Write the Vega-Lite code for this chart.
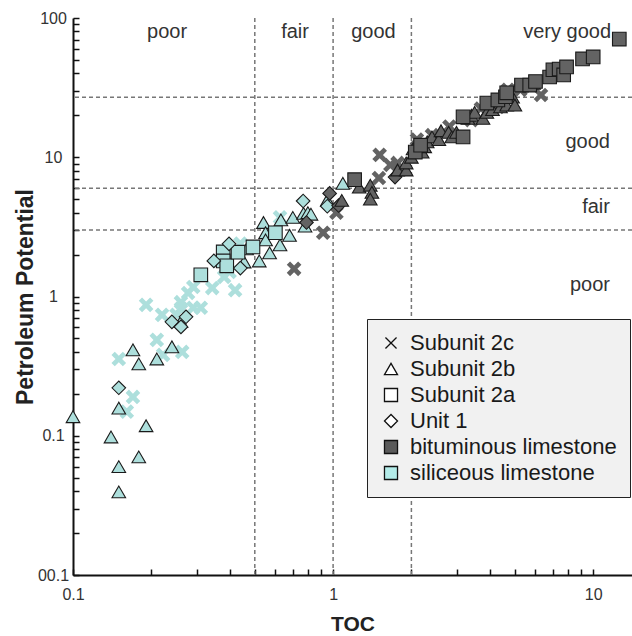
{
  "$schema": "https://vega.github.io/schema/vega-lite/v6.json",
  "width": 559,
  "height": 557,
  "autosize": {"type": "none"},
  "padding": {"left": 73, "top": 18, "right": 0, "bottom": 61},
  "background": "white",
  "resolve": {"axis": {"x": "independent", "y": "independent"}},
  "config": {
    "font": "Liberation Sans",
    "view": {"stroke": null},
    "axis": {
      "grid": false,
      "domainColor": "#111",
      "domainWidth": 2,
      "tickColor": "#111",
      "tickWidth": 1.5,
      "tickSize": 6,
      "labelFontSize": 16,
      "labelColor": "#333",
      "labelFlush": false,
      "labelOverlap": false,
      "titleFontSize": 21,
      "titleFontWeight": "bold",
      "titleColor": "#222",
      "zindex": 1
    },
    "legend": {
      "orient": "none",
      "legendX": 294,
      "legendY": 301,
      "fillColor": "#f1f1f1",
      "strokeColor": "#222",
      "padding": 13,
      "labelFontSize": 22,
      "labelColor": "#1a1a1a",
      "labelLimit": 400,
      "labelOffset": 8,
      "rowPadding": 4,
      "symbolSize": 170,
      "symbolStrokeWidth": 1.3,
      "symbolStrokeColor": "#111",
      "symbolOpacity": 1
    }
  },
  "datasets": {
    "pts": [
      {"toc": 0.15, "pp": 0.356, "unit": "Subunit 2c", "lith": "siliceous limestone"},
      {"toc": 0.17, "pp": 0.19, "unit": "Subunit 2c", "lith": "siliceous limestone"},
      {"toc": 0.161, "pp": 0.149, "unit": "Subunit 2c", "lith": "siliceous limestone"},
      {"toc": 0.21, "pp": 0.488, "unit": "Subunit 2c", "lith": "siliceous limestone"},
      {"toc": 0.222, "pp": 0.381, "unit": "Subunit 2c", "lith": "siliceous limestone"},
      {"toc": 0.263, "pp": 0.4, "unit": "Subunit 2c", "lith": "siliceous limestone"},
      {"toc": 0.191, "pp": 0.871, "unit": "Subunit 2c", "lith": "siliceous limestone"},
      {"toc": 0.22, "pp": 0.738, "unit": "Subunit 2c", "lith": "siliceous limestone"},
      {"toc": 0.26, "pp": 0.91, "unit": "Subunit 2c", "lith": "siliceous limestone"},
      {"toc": 0.26, "pp": 0.82, "unit": "Subunit 2c", "lith": "siliceous limestone"},
      {"toc": 0.25, "pp": 0.74, "unit": "Subunit 2c", "lith": "siliceous limestone"},
      {"toc": 0.277, "pp": 1.06, "unit": "Subunit 2c", "lith": "siliceous limestone"},
      {"toc": 0.29, "pp": 1.17, "unit": "Subunit 2c", "lith": "siliceous limestone"},
      {"toc": 0.29, "pp": 0.83, "unit": "Subunit 2c", "lith": "siliceous limestone"},
      {"toc": 0.31, "pp": 0.83, "unit": "Subunit 2c", "lith": "siliceous limestone"},
      {"toc": 0.343, "pp": 1.15, "unit": "Subunit 2c", "lith": "siliceous limestone"},
      {"toc": 0.381, "pp": 1.38, "unit": "Subunit 2c", "lith": "siliceous limestone"},
      {"toc": 0.42, "pp": 1.11, "unit": "Subunit 2c", "lith": "siliceous limestone"},
      {"toc": 0.4, "pp": 1.5, "unit": "Subunit 2c", "lith": "siliceous limestone"},
      {"toc": 0.44, "pp": 2.4, "unit": "Subunit 2c", "lith": "siliceous limestone"},
      {"toc": 0.625, "pp": 3.7, "unit": "Subunit 2c", "lith": "siliceous limestone"},
      {"toc": 0.708, "pp": 1.58, "unit": "Subunit 2c", "lith": "bituminous limestone"},
      {"toc": 0.916, "pp": 2.87, "unit": "Subunit 2c", "lith": "bituminous limestone"},
      {"toc": 1.03, "pp": 4.0, "unit": "Subunit 2c", "lith": "bituminous limestone"},
      {"toc": 1.51, "pp": 10.4, "unit": "Subunit 2c", "lith": "bituminous limestone"},
      {"toc": 1.5, "pp": 7.1, "unit": "Subunit 2c", "lith": "bituminous limestone"},
      {"toc": 1.66, "pp": 8.8, "unit": "Subunit 2c", "lith": "bituminous limestone"},
      {"toc": 1.77, "pp": 9.1, "unit": "Subunit 2c", "lith": "bituminous limestone"},
      {"toc": 2.1, "pp": 13.4, "unit": "Subunit 2c", "lith": "bituminous limestone"},
      {"toc": 2.4, "pp": 14.4, "unit": "Subunit 2c", "lith": "bituminous limestone"},
      {"toc": 2.8, "pp": 16.6, "unit": "Subunit 2c", "lith": "bituminous limestone"},
      {"toc": 3.4, "pp": 18.5, "unit": "Subunit 2c", "lith": "bituminous limestone"},
      {"toc": 3.7, "pp": 22.4, "unit": "Subunit 2c", "lith": "bituminous limestone"},
      {"toc": 4.3, "pp": 23.0, "unit": "Subunit 2c", "lith": "bituminous limestone"},
      {"toc": 4.7, "pp": 30.5, "unit": "Subunit 2c", "lith": "bituminous limestone"},
      {"toc": 5.25, "pp": 30.5, "unit": "Subunit 2c", "lith": "bituminous limestone"},
      {"toc": 6.3, "pp": 28.0, "unit": "Subunit 2c", "lith": "bituminous limestone"},
      {"toc": 0.1, "pp": 0.137, "unit": "Subunit 2b", "lith": "siliceous limestone"},
      {"toc": 0.15, "pp": 0.158, "unit": "Subunit 2b", "lith": "siliceous limestone"},
      {"toc": 0.191, "pp": 0.118, "unit": "Subunit 2b", "lith": "siliceous limestone"},
      {"toc": 0.14, "pp": 0.098, "unit": "Subunit 2b", "lith": "siliceous limestone"},
      {"toc": 0.179, "pp": 0.0705, "unit": "Subunit 2b", "lith": "siliceous limestone"},
      {"toc": 0.15, "pp": 0.06, "unit": "Subunit 2b", "lith": "siliceous limestone"},
      {"toc": 0.15, "pp": 0.0395, "unit": "Subunit 2b", "lith": "siliceous limestone"},
      {"toc": 0.17, "pp": 0.414, "unit": "Subunit 2b", "lith": "siliceous limestone"},
      {"toc": 0.179, "pp": 0.328, "unit": "Subunit 2b", "lith": "siliceous limestone"},
      {"toc": 0.21, "pp": 0.356, "unit": "Subunit 2b", "lith": "siliceous limestone"},
      {"toc": 0.24, "pp": 0.435, "unit": "Subunit 2b", "lith": "siliceous limestone"},
      {"toc": 0.26, "pp": 0.66, "unit": "Subunit 2b", "lith": "siliceous limestone"},
      {"toc": 0.455, "pp": 1.77, "unit": "Subunit 2b", "lith": "siliceous limestone"},
      {"toc": 0.465, "pp": 2.2, "unit": "Subunit 2b", "lith": "siliceous limestone"},
      {"toc": 0.52, "pp": 1.8, "unit": "Subunit 2b", "lith": "siliceous limestone"},
      {"toc": 0.54, "pp": 3.4, "unit": "Subunit 2b", "lith": "siliceous limestone"},
      {"toc": 0.55, "pp": 2.87, "unit": "Subunit 2b", "lith": "siliceous limestone"},
      {"toc": 0.55, "pp": 2.55, "unit": "Subunit 2b", "lith": "siliceous limestone"},
      {"toc": 0.57, "pp": 2.06, "unit": "Subunit 2b", "lith": "siliceous limestone"},
      {"toc": 0.625, "pp": 2.35, "unit": "Subunit 2b", "lith": "siliceous limestone"},
      {"toc": 0.63, "pp": 3.55, "unit": "Subunit 2b", "lith": "siliceous limestone"},
      {"toc": 0.68, "pp": 2.75, "unit": "Subunit 2b", "lith": "siliceous limestone"},
      {"toc": 0.7, "pp": 3.7, "unit": "Subunit 2b", "lith": "siliceous limestone"},
      {"toc": 0.77, "pp": 3.95, "unit": "Subunit 2b", "lith": "siliceous limestone"},
      {"toc": 0.8, "pp": 4.0, "unit": "Subunit 2b", "lith": "siliceous limestone"},
      {"toc": 0.78, "pp": 3.2, "unit": "Subunit 2b", "lith": "siliceous limestone"},
      {"toc": 0.822, "pp": 3.9, "unit": "Subunit 2b", "lith": "siliceous limestone"},
      {"toc": 0.95, "pp": 4.93, "unit": "Subunit 2b", "lith": "siliceous limestone"},
      {"toc": 1.09, "pp": 6.5, "unit": "Subunit 2b", "lith": "siliceous limestone"},
      {"toc": 0.31, "pp": 1.43, "unit": "Subunit 2a", "lith": "siliceous limestone"},
      {"toc": 0.378, "pp": 2.09, "unit": "Subunit 2a", "lith": "siliceous limestone"},
      {"toc": 0.378, "pp": 1.8, "unit": "Subunit 2a", "lith": "siliceous limestone"},
      {"toc": 0.39, "pp": 1.66, "unit": "Subunit 2a", "lith": "siliceous limestone"},
      {"toc": 0.431, "pp": 2.08, "unit": "Subunit 2a", "lith": "siliceous limestone"},
      {"toc": 0.492, "pp": 2.27, "unit": "Subunit 2a", "lith": "siliceous limestone"},
      {"toc": 0.6, "pp": 2.87, "unit": "Subunit 2a", "lith": "siliceous limestone"},
      {"toc": 0.15, "pp": 0.221, "unit": "Unit 1", "lith": "siliceous limestone"},
      {"toc": 0.24, "pp": 0.658, "unit": "Unit 1", "lith": "siliceous limestone"},
      {"toc": 0.26, "pp": 0.605, "unit": "Unit 1", "lith": "siliceous limestone"},
      {"toc": 0.272, "pp": 0.715, "unit": "Unit 1", "lith": "siliceous limestone"},
      {"toc": 0.348, "pp": 1.8, "unit": "Unit 1", "lith": "siliceous limestone"},
      {"toc": 0.398, "pp": 2.39, "unit": "Unit 1", "lith": "siliceous limestone"},
      {"toc": 0.44, "pp": 1.6, "unit": "Unit 1", "lith": "siliceous limestone"},
      {"toc": 0.767, "pp": 4.85, "unit": "Unit 1", "lith": "siliceous limestone"},
      {"toc": 0.95, "pp": 4.45, "unit": "Unit 1", "lith": "siliceous limestone"},
      {"toc": 0.79, "pp": 3.4, "unit": "Unit 1", "lith": "bituminous limestone"},
      {"toc": 0.97, "pp": 5.5, "unit": "Unit 1", "lith": "bituminous limestone"},
      {"toc": 1.05, "pp": 4.5, "unit": "Unit 1", "lith": "bituminous limestone"},
      {"toc": 1.73, "pp": 7.2, "unit": "Unit 1", "lith": "bituminous limestone"},
      {"toc": 1.08, "pp": 4.9, "unit": "Subunit 2b", "lith": "bituminous limestone"},
      {"toc": 1.26, "pp": 6.1, "unit": "Subunit 2b", "lith": "bituminous limestone"},
      {"toc": 1.39, "pp": 6.3, "unit": "Subunit 2b", "lith": "bituminous limestone"},
      {"toc": 1.41, "pp": 5.6, "unit": "Subunit 2b", "lith": "bituminous limestone"},
      {"toc": 1.39, "pp": 5.0, "unit": "Subunit 2b", "lith": "bituminous limestone"},
      {"toc": 1.77, "pp": 8.1, "unit": "Subunit 2b", "lith": "bituminous limestone"},
      {"toc": 1.91, "pp": 8.1, "unit": "Subunit 2b", "lith": "bituminous limestone"},
      {"toc": 1.91, "pp": 9.1, "unit": "Subunit 2b", "lith": "bituminous limestone"},
      {"toc": 2.0, "pp": 10.0, "unit": "Subunit 2b", "lith": "bituminous limestone"},
      {"toc": 2.03, "pp": 11.5, "unit": "Subunit 2b", "lith": "bituminous limestone"},
      {"toc": 2.1, "pp": 12.0, "unit": "Subunit 2b", "lith": "bituminous limestone"},
      {"toc": 2.2, "pp": 10.9, "unit": "Subunit 2b", "lith": "bituminous limestone"},
      {"toc": 2.25, "pp": 11.9, "unit": "Subunit 2b", "lith": "bituminous limestone"},
      {"toc": 2.3, "pp": 12.9, "unit": "Subunit 2b", "lith": "bituminous limestone"},
      {"toc": 2.4, "pp": 14.0, "unit": "Subunit 2b", "lith": "bituminous limestone"},
      {"toc": 2.55, "pp": 13.4, "unit": "Subunit 2b", "lith": "bituminous limestone"},
      {"toc": 2.6, "pp": 15.5, "unit": "Subunit 2b", "lith": "bituminous limestone"},
      {"toc": 2.78, "pp": 15.1, "unit": "Subunit 2b", "lith": "bituminous limestone"},
      {"toc": 2.86, "pp": 14.0, "unit": "Subunit 2b", "lith": "bituminous limestone"},
      {"toc": 2.98, "pp": 15.1, "unit": "Subunit 2b", "lith": "bituminous limestone"},
      {"toc": 3.3, "pp": 19.0, "unit": "Subunit 2b", "lith": "bituminous limestone"},
      {"toc": 3.4, "pp": 20.0, "unit": "Subunit 2b", "lith": "bituminous limestone"},
      {"toc": 3.5, "pp": 21.0, "unit": "Subunit 2b", "lith": "bituminous limestone"},
      {"toc": 3.77, "pp": 19.0, "unit": "Subunit 2b", "lith": "bituminous limestone"},
      {"toc": 3.9, "pp": 21.0, "unit": "Subunit 2b", "lith": "bituminous limestone"},
      {"toc": 4.1, "pp": 22.0, "unit": "Subunit 2b", "lith": "bituminous limestone"},
      {"toc": 4.4, "pp": 23.0, "unit": "Subunit 2b", "lith": "bituminous limestone"},
      {"toc": 4.65, "pp": 23.7, "unit": "Subunit 2b", "lith": "bituminous limestone"},
      {"toc": 4.8, "pp": 27.2, "unit": "Subunit 2b", "lith": "bituminous limestone"},
      {"toc": 4.9, "pp": 27.0, "unit": "Subunit 2b", "lith": "bituminous limestone"},
      {"toc": 5.0, "pp": 23.7, "unit": "Subunit 2b", "lith": "bituminous limestone"},
      {"toc": 5.9, "pp": 34.0, "unit": "Subunit 2b", "lith": "bituminous limestone"},
      {"toc": 1.21, "pp": 6.9, "unit": "Subunit 2a", "lith": "bituminous limestone"},
      {"toc": 2.07, "pp": 10.9, "unit": "Subunit 2a", "lith": "bituminous limestone"},
      {"toc": 2.17, "pp": 12.2, "unit": "Subunit 2a", "lith": "bituminous limestone"},
      {"toc": 3.16, "pp": 14.0, "unit": "Subunit 2a", "lith": "bituminous limestone"},
      {"toc": 3.16, "pp": 19.5, "unit": "Subunit 2a", "lith": "bituminous limestone"},
      {"toc": 3.9, "pp": 24.5, "unit": "Subunit 2a", "lith": "bituminous limestone"},
      {"toc": 4.3, "pp": 25.8, "unit": "Subunit 2a", "lith": "bituminous limestone"},
      {"toc": 4.6, "pp": 27.2, "unit": "Subunit 2a", "lith": "bituminous limestone"},
      {"toc": 4.65, "pp": 29.0, "unit": "Subunit 2a", "lith": "bituminous limestone"},
      {"toc": 5.3, "pp": 33.0, "unit": "Subunit 2a", "lith": "bituminous limestone"},
      {"toc": 5.7, "pp": 33.0, "unit": "Subunit 2a", "lith": "bituminous limestone"},
      {"toc": 6.0, "pp": 35.0, "unit": "Subunit 2a", "lith": "bituminous limestone"},
      {"toc": 6.8, "pp": 37.7, "unit": "Subunit 2a", "lith": "bituminous limestone"},
      {"toc": 7.0, "pp": 42.5, "unit": "Subunit 2a", "lith": "bituminous limestone"},
      {"toc": 7.4, "pp": 43.0, "unit": "Subunit 2a", "lith": "bituminous limestone"},
      {"toc": 7.7, "pp": 39.0, "unit": "Subunit 2a", "lith": "bituminous limestone"},
      {"toc": 7.9, "pp": 44.5, "unit": "Subunit 2a", "lith": "bituminous limestone"},
      {"toc": 9.1, "pp": 50.8, "unit": "Subunit 2a", "lith": "bituminous limestone"},
      {"toc": 10.0, "pp": 52.5, "unit": "Subunit 2a", "lith": "bituminous limestone"},
      {"toc": 12.6, "pp": 70.6, "unit": "Subunit 2a", "lith": "bituminous limestone"}
    ]
  },
  "layer": [
    {
      "data": {"values": [{"toc": 0.5}, {"toc": 1}, {"toc": 2}]},
      "mark": {"type": "rule", "color": "#777", "strokeWidth": 1.5, "strokeDash": [4, 3]},
      "encoding": {
        "x": {"field": "toc", "type": "quantitative", "scale": {"type": "log", "domain": [0.1, 14.1], "nice": false},
          "axis": {"orient": "top", "offset": -557, "domain": false, "labels": false, "title": null,
                   "values": [0.1, 0.2, 0.3, 0.4, 0.5, 0.6, 0.7, 0.8, 0.9, 1, 2, 3, 4, 5, 6, 7, 8, 9, 10]}}
      }
    },
    {
      "data": {"values": [{"pp": 3}, {"pp": 6}, {"pp": 27}]},
      "mark": {"type": "rule", "color": "#777", "strokeWidth": 1.5, "strokeDash": [4, 3]},
      "encoding": {
        "y": {"field": "pp", "type": "quantitative", "scale": {"type": "log", "domain": [0.01, 100], "nice": false},
          "axis": {"orient": "right", "offset": -559, "domain": false, "labels": false, "title": null,
                   "values": [0.01, 0.02, 0.03, 0.04, 0.05, 0.06, 0.07, 0.08, 0.09, 0.1, 0.2, 0.3, 0.4, 0.5, 0.6, 0.7, 0.8, 0.9, 1, 2, 3, 4, 5, 6, 7, 8, 9, 10, 20, 30, 40, 50, 60, 70, 80, 90, 100]}}
      }
    },
    {
      "data": {"name": "pts"},
      "transform": [{"filter": "datum.unit === 'Subunit 2c'"}],
      "mark": {"type": "point", "filled": true, "opacity": 1, "strokeWidth": 0, "size": 215,
               "shape": "M-1,-0.55L-0.55,-1L0,-0.45L0.55,-1L1,-0.55L0.45,0L1,0.55L0.55,1L0,0.45L-0.55,1L-1,0.55L-0.45,0Z"},
      "encoding": {
        "x": {"field": "toc", "type": "quantitative", "scale": {"type": "log", "domain": [0.1, 14.1], "nice": false}, "axis": null},
        "y": {"field": "pp", "type": "quantitative", "scale": {"type": "log", "domain": [0.01, 100], "nice": false}, "axis": null},
        "fill": {"field": "lith", "type": "nominal", "legend": null,
          "scale": {"domain": ["bituminous limestone", "siliceous limestone"], "range": ["#636363", "#addfdc"]}}
      }
    },
    {
      "data": {"name": "pts"},
      "transform": [{"filter": "datum.unit !== 'Subunit 2c'"}],
      "mark": {"type": "point", "filled": true, "opacity": 1, "stroke": "#1a1a1a", "strokeWidth": 1.1, "size": 185},
      "encoding": {
        "x": {"field": "toc", "type": "quantitative", "title": "TOC",
          "scale": {"type": "log", "domain": [0.1, 14.1], "nice": false},
          "axis": {
            "orient": "bottom",
            "ticks": false,
            "values": [0.1, 1, 10],
            "labelExpr": "'' + datum.value",
            "labelPadding": 11,
            "titlePadding": 11
          }
        },
        "y": {"field": "pp", "type": "quantitative", "title": "Petroleum Potential",
          "scale": {"type": "log", "domain": [0.01, 100], "nice": false},
          "axis": {
            "orient": "left",
            "ticks": false,
            "values": [0.01, 0.1, 1, 10, 100],
            "labelExpr": "datum.value == 0.01 ? '00.1' : '' + datum.value",
            "labelAlign": "center",
            "labelPadding": 20,
            "titlePadding": 0,
            "titleFontSize": 23
          }
        },
        "shape": {"field": "unit", "type": "nominal",
          "scale": {"domain": ["Subunit 2c", "Subunit 2b", "Subunit 2a", "Unit 1", "bituminous limestone", "siliceous limestone"],
                    "range": ["M-0.85,-0.85L0.85,0.85M0.85,-0.85L-0.85,0.85", "triangle-up", "square", "diamond", "square", "square"]},
          "legend": {
            "title": null,
            "symbolFillColor": {"expr": "datum.value === 'bituminous limestone' ? '#5a5a5a' : datum.value === 'siliceous limestone' ? '#b3ebe8' : '#ffffff'"},
            "symbolStrokeColor": "#111"
          }
        },
        "fill": {"field": "lith", "type": "nominal", "legend": null}
      }
    },
    {
      "data": {"values": [
        {"toc": 0.23, "pp": 79, "zone": "poor"},
        {"toc": 0.714, "pp": 79, "zone": "fair"},
        {"toc": 1.43, "pp": 79, "zone": "good"},
        {"toc": 7.94, "pp": 79, "zone": "very good"}
      ]},
      "mark": {"type": "text", "fontSize": 20, "color": "#333", "align": "center", "baseline": "middle"},
      "encoding": {
        "x": {"field": "toc", "type": "quantitative", "scale": {"type": "log", "domain": [0.1, 14.1], "nice": false}, "axis": null},
        "y": {"field": "pp", "type": "quantitative", "scale": {"type": "log", "domain": [0.01, 100], "nice": false}, "axis": null},
        "text": {"field": "zone"}
      }
    },
    {
      "data": {"values": [
        {"toc": 11.6, "pp": 12.9, "zone": "good"},
        {"toc": 11.6, "pp": 4.4, "zone": "fair"},
        {"toc": 11.6, "pp": 1.21, "zone": "poor"}
      ]},
      "mark": {"type": "text", "fontSize": 20, "color": "#333", "align": "right", "baseline": "middle"},
      "encoding": {
        "x": {"field": "toc", "type": "quantitative", "scale": {"type": "log", "domain": [0.1, 14.1], "nice": false}, "axis": null},
        "y": {"field": "pp", "type": "quantitative", "scale": {"type": "log", "domain": [0.01, 100], "nice": false}, "axis": null},
        "text": {"field": "zone"}
      }
    }
  ]
}
